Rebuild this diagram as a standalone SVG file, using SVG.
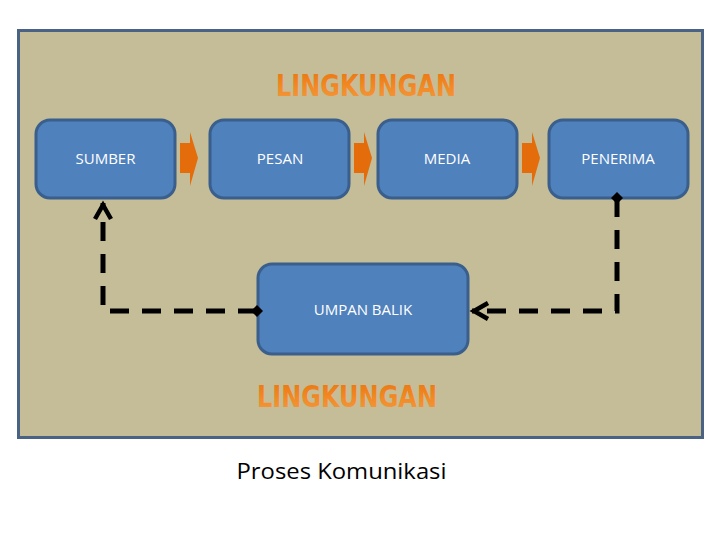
<svg xmlns="http://www.w3.org/2000/svg" width="720" height="540" viewBox="0 0 720 540">
  <style>
    .box { fill: #4f81bd; stroke: #3b5f8c; stroke-width: 3; }
    .lbl { font-family: "Open Sans", "Liberation Sans", Arial, sans-serif; font-size: 15px; fill: #ffffff; text-anchor: middle; }
    .env { font-family: "DejaVu Sans", "Liberation Sans", sans-serif; font-weight: bold; font-stretch: condensed; font-size: 30px; fill: url(#og); }
    .flow { fill: #e46c0a; }
    .dash { fill: none; stroke: #000; stroke-width: 5; stroke-dasharray: 19 13; }
  </style>
  <defs>
    <linearGradient id="og" x1="0" y1="0" x2="0" y2="1">
      <stop offset="0" stop-color="#e8740f"/>
      <stop offset="0.55" stop-color="#f38a25"/>
      <stop offset="1" stop-color="#f09a45"/>
    </linearGradient>
    <marker id="dia" markerUnits="userSpaceOnUse" markerWidth="16" markerHeight="16" refX="8" refY="8" orient="auto" overflow="visible">
      <path d="M2,8 L8,2 L14,8 L8,14 Z" fill="#000" stroke="none"/>
    </marker>
    <marker id="arr" markerUnits="userSpaceOnUse" markerWidth="24" markerHeight="24" refX="2" refY="0" viewBox="-20 -12 24 24" orient="auto" overflow="visible">
      <path d="M-14,-8 L0,0 L-14,8" fill="none" stroke="#000" stroke-width="4.5" stroke-dasharray="none" stroke-linejoin="miter"/>
    </marker>
  </defs>
  <rect width="720" height="540" fill="#ffffff"/>
  <rect x="18.5" y="30.5" width="684" height="407" fill="#c4bd97" stroke="#4a6283" stroke-width="3"/>

  <text class="env" x="276" y="96" textLength="180" lengthAdjust="spacingAndGlyphs">LINGKUNGAN</text>
  <text class="env" x="257" y="407" textLength="180" lengthAdjust="spacingAndGlyphs">LINGKUNGAN</text>

  <g id="sumber">
    <rect class="box" x="36" y="120" width="139" height="78" rx="14"/>
    <text class="lbl" x="105.5" y="164">SUMBER</text>
  </g>
  <g id="pesan">
    <rect class="box" x="210" y="120" width="139" height="78" rx="14"/>
    <text class="lbl" x="280" y="164">PESAN</text>
  </g>
  <g id="media">
    <rect class="box" x="378" y="120" width="139" height="78" rx="14"/>
    <text class="lbl" x="447" y="164">MEDIA</text>
  </g>
  <g id="penerima">
    <rect class="box" x="549" y="120" width="139" height="78" rx="14"/>
    <text class="lbl" x="618" y="164">PENERIMA</text>
  </g>
  <g id="umpan-balik">
    <rect class="box" x="258" y="264" width="210" height="90" rx="14"/>
    <text class="lbl" x="363" y="315">UMPAN BALIK</text>
  </g>

  <g id="connectors">
    <path class="flow" d="M180,143 H190 V132 L198,158 L190,186 V173 H180 Z"/>
    <path class="flow" d="M354,143 H364 V132 L372,158 L364,186 V173 H354 Z"/>
    <path class="flow" d="M522,143 H532 V132 L540,158 L532,186 V173 H522 Z"/>
    <path class="dash" d="M257,311 H103 V203" marker-start="url(#dia)" marker-end="url(#arr)"/>
    <path class="dash" d="M617,198 V311 H472" marker-start="url(#dia)" marker-end="url(#arr)"/>
  </g>

  <text x="341.5" y="479" font-family="Open Sans, Liberation Sans, Arial, sans-serif" font-size="21" fill="#000" text-anchor="middle" textLength="210" lengthAdjust="spacingAndGlyphs">Proses Komunikasi</text>
</svg>
